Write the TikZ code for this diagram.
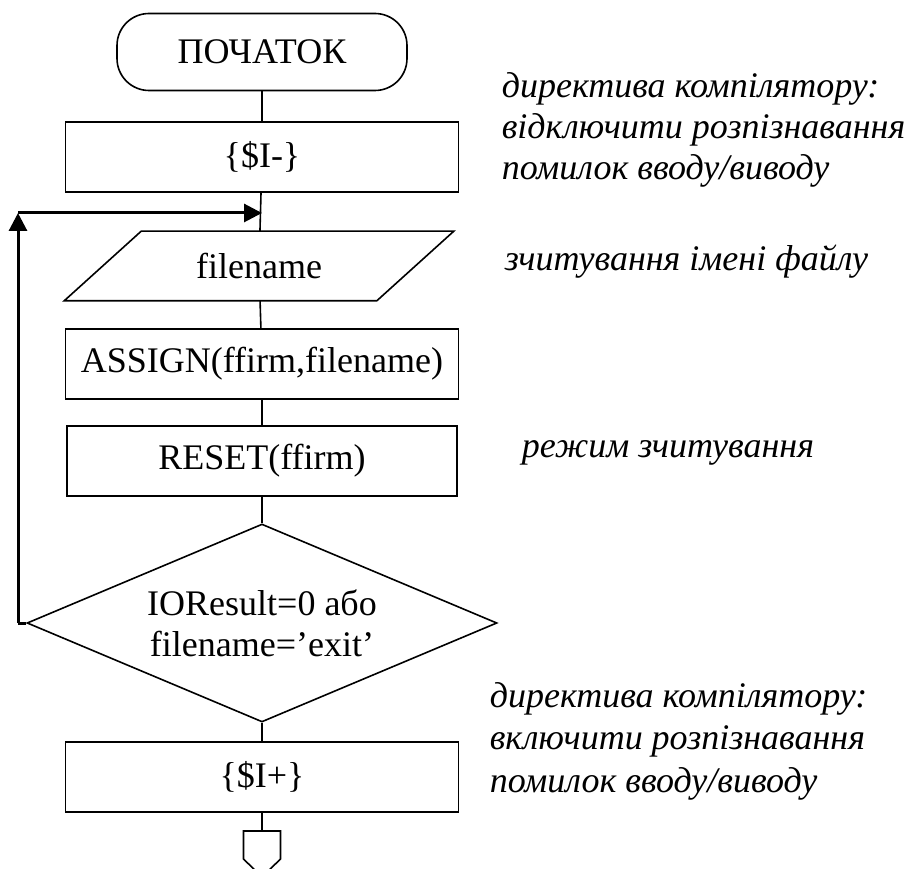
\documentclass[tikz,border=0pt]{standalone}
\usepackage{fontspec}
\setmainfont{Liberation Serif}
\usetikzlibrary{shapes.geometric,arrows.meta}

\begin{document}
\begin{tikzpicture}[x=1pt,y=-1pt,line width=1.6pt,
    every node/.style={font=\fontsize{36}{41}\selectfont},
    term/.style={draw,rounded corners=32pt,minimum width=290pt,minimum height=77pt},
    block/.style={draw,minimum width=393pt,minimum height=70pt,inner sep=0pt},
    io/.style={minimum width=311pt,minimum height=68pt,inner sep=0pt},
    decision/.style={draw,diamond,shape aspect=2.37,minimum width=470pt,minimum height=198pt,
      inner sep=0pt,align=center},
    remark/.style={anchor=west,align=left,inner sep=0pt,font=\fontsize{36}{41}\selectfont\itshape},
    backarrow/.style={line width=3pt,-{Triangle[length=18pt,width=18pt]}}]
  \useasboundingbox (0,0) rectangle (906,869);
  \node[term] (start) at (262,52) {ПОЧАТОК};
  \node[block] (ioff) at (262,157) {\{\$I-\}};
  \node[io] (read) at (259,266) {filename};
  \draw ([xshift=-38.5pt]read.south west) -- ([xshift=38.5pt]read.north west)
    -- ([xshift=38.5pt]read.north east) -- ([xshift=-38.5pt]read.south east) -- cycle;
  \node[block] (assign) at (262,364) {ASSIGN(ffirm,filename)};
  \node[block,minimum width=390pt] (reset) at (262,461) {RESET(ffirm)};
  \node[decision] (check) at (262,623) {IOResult=0 або\\filename=’exit’};
  \node[block] (ion) at (262,777) {\{\$I+\}};
  \coordinate (offpage) at (262,831);
  \path[draw]
    (start) edge (ioff)
    (ioff) edge (read)
    (read) edge (assign)
    (assign) edge (reset)
    (reset) edge (check)
    (check) edge (ion)
    (ion) edge (offpage);
  \draw (offpage) -- ++(-18.5,0) -- ++(0,28) -- ++(18.5,18) -- ++(18.5,-18) -- ++(0,-28) -- cycle;
  % repeat while the file is not opened
  \coordinate (loopbot) at (18,623);
  \coordinate (looptop) at (18,213);
  \coordinate (joint) at (262,213);
  \draw[line width=3pt] (check.west) -- (loopbot);
  \draw[backarrow] (loopbot) -- (looptop);
  \draw[backarrow] (looptop) -- (joint);
  % comments
  \node[remark] (remoff) at (501,130) {директива компілятору:\\відключити розпізнавання\\помилок вводу/виводу};
  \node[remark] (remread) at (504,262) {зчитування імені файлу};
  \node[remark] (remreset) at (521,453) {режим зчитування};
  \node[remark,font=\fontsize{36}{42.5}\selectfont\itshape] (remon) at (489,741) {директива компілятору:\\включити розпізнавання\\помилок вводу/виводу};
\end{tikzpicture}
\end{document}
